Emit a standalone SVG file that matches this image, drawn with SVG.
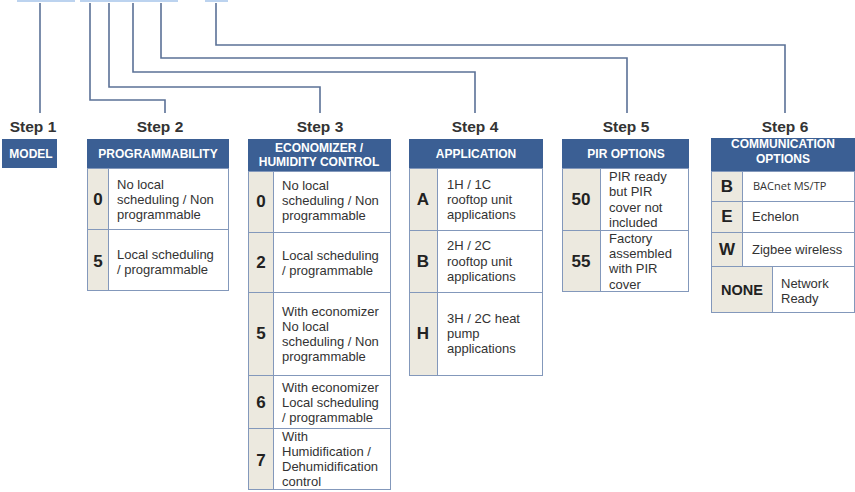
<svg xmlns="http://www.w3.org/2000/svg" width="855" height="492" viewBox="0 0 855 492">
<style>
.bg{fill:#ffffff}
.conn{fill:none;stroke:#5b7197;stroke-width:1.6}
.top{fill:#bcd3ef}
.step{font-family:"Liberation Sans",Arial,sans-serif;font-weight:bold;font-size:15.5px;fill:#333333;text-anchor:middle}
.hdr{fill:#3b5f94}
.ht{font-family:"Liberation Sans",Arial,sans-serif;font-weight:bold;font-size:12px;fill:#ffffff;text-anchor:middle}
.cell{fill:#ffffff;stroke:#8398bb;stroke-width:1}
.code{fill:#ece9df;stroke:#8398bb;stroke-width:1}
.ct{font-family:"Liberation Sans",Arial,sans-serif;font-weight:bold;font-size:17px;fill:#222222;text-anchor:middle}
.t{font-family:"Liberation Sans",Arial,sans-serif;font-size:13px;fill:#333333}
.t2{font-family:"Open Sans","Liberation Sans",sans-serif;font-size:11px;fill:#333333}
</style>
<rect class="bg" x="0" y="0" width="855" height="492"/>
<g id="topbars">
<rect class="top" x="17" y="0" width="58" height="2"/>
<rect class="top" x="80" y="0" width="98" height="2"/>
<rect class="top" x="205" y="0" width="23" height="2"/>
</g>
<g id="connectors">
<path class="conn" d="M40 3 V113"/>
<path class="conn" d="M90 3 V100 H165 V113"/>
<path class="conn" d="M109 3 V87 H320 V113"/>
<path class="conn" d="M133 3 V72 H475 V113"/>
<path class="conn" d="M161 3 V58 H627 V113"/>
<path class="conn" d="M216 3 V45 H785 V113"/>
</g>
<g id="step1">
<text class="step" x="33" y="132">Step 1</text>
<rect class="hdr" x="2" y="139" width="55" height="29"/>
<text class="ht" x="31" y="157.5">MODEL</text>
</g>
<g id="step2">
<text class="step" x="160" y="132">Step 2</text>
<rect class="hdr" x="87" y="139" width="142" height="29"/>
<text class="ht" x="158" y="157.5">PROGRAMMABILITY</text>
<rect class="cell" x="87.5" y="168.5" width="141" height="61"/>
<rect class="code" x="87.5" y="168.5" width="21" height="61"/>
<text class="ct" x="98" y="205">0</text>
<text class="t" x="117" y="189">No local</text>
<text class="t" x="117" y="204">scheduling / Non</text>
<text class="t" x="117" y="219">programmable</text>
<rect class="cell" x="87.5" y="229.5" width="141" height="61"/>
<rect class="code" x="87.5" y="229.5" width="21" height="61"/>
<text class="ct" x="98" y="267">5</text>
<text class="t" x="117" y="259">Local scheduling</text>
<text class="t" x="117" y="274">/ programmable</text>
</g>
<g id="step3">
<text class="step" x="320" y="132">Step  3</text>
<rect class="hdr" x="248" y="139" width="143" height="32"/>
<text class="ht" x="319" y="152">ECONOMIZER /</text>
<text class="ht" x="319" y="166">HUMIDITY CONTROL</text>
<rect class="cell" x="248.5" y="171.5" width="142" height="61"/>
<rect class="code" x="248.5" y="171.5" width="25" height="61"/>
<text class="ct" x="261" y="207">0</text>
<text class="t" x="282" y="190">No local</text>
<text class="t" x="282" y="205">scheduling / Non</text>
<text class="t" x="282" y="220">programmable</text>
<rect class="cell" x="248.5" y="232.5" width="142" height="60"/>
<rect class="code" x="248.5" y="232.5" width="25" height="60"/>
<text class="ct" x="261" y="268">2</text>
<text class="t" x="282" y="260">Local scheduling</text>
<text class="t" x="282" y="275">/ programmable</text>
<rect class="cell" x="248.5" y="292.5" width="142" height="83"/>
<rect class="code" x="248.5" y="292.5" width="25" height="83"/>
<text class="ct" x="261" y="339">5</text>
<text class="t" x="282" y="316">With economizer</text>
<text class="t" x="282" y="331">No local</text>
<text class="t" x="282" y="346">scheduling / Non</text>
<text class="t" x="282" y="361">programmable</text>
<rect class="cell" x="248.5" y="375.5" width="142" height="53"/>
<rect class="code" x="248.5" y="375.5" width="25" height="53"/>
<text class="ct" x="261" y="408">6</text>
<text class="t" x="282" y="392">With economizer</text>
<text class="t" x="282" y="407">Local scheduling</text>
<text class="t" x="282" y="422">/ programmable</text>
<rect class="cell" x="248.5" y="428.5" width="142" height="61"/>
<rect class="code" x="248.5" y="428.5" width="25" height="61"/>
<text class="ct" x="261" y="466">7</text>
<text class="t" x="282" y="441">With</text>
<text class="t" x="282" y="456">Humidification /</text>
<text class="t" x="282" y="471">Dehumidification</text>
<text class="t" x="282" y="486">control</text>
</g>
<g id="step4">
<text class="step" x="475" y="132">Step  4</text>
<rect class="hdr" x="409" y="139" width="134" height="29"/>
<text class="ht" x="476" y="157.5">APPLICATION</text>
<rect class="cell" x="409.5" y="168.5" width="133" height="62"/>
<rect class="code" x="409.5" y="168.5" width="28" height="62"/>
<text class="ct" x="423" y="205">A</text>
<text class="t" x="447" y="189">1H / 1C</text>
<text class="t" x="447" y="204">rooftop unit</text>
<text class="t" x="447" y="219">applications</text>
<rect class="cell" x="409.5" y="230.5" width="133" height="62"/>
<rect class="code" x="409.5" y="230.5" width="28" height="62"/>
<text class="ct" x="423" y="267">B</text>
<text class="t" x="447" y="250">2H / 2C</text>
<text class="t" x="447" y="266">rooftop unit</text>
<text class="t" x="447" y="281">applications</text>
<rect class="cell" x="409.5" y="292.5" width="133" height="83"/>
<rect class="code" x="409.5" y="292.5" width="28" height="83"/>
<text class="ct" x="423" y="339">H</text>
<text class="t" x="447" y="323">3H / 2C heat</text>
<text class="t" x="447" y="338">pump</text>
<text class="t" x="447" y="353">applications</text>
</g>
<g id="step5">
<text class="step" x="626" y="132">Step 5</text>
<rect class="hdr" x="562" y="139" width="127" height="29"/>
<text class="ht" x="626" y="157.5">PIR OPTIONS</text>
<rect class="cell" x="562.5" y="168.5" width="126" height="62"/>
<rect class="code" x="562.5" y="168.5" width="38" height="62"/>
<text class="ct" x="581" y="205">50</text>
<text class="t" x="609" y="181">PIR ready</text>
<text class="t" x="609" y="196">but PIR</text>
<text class="t" x="609" y="212">cover not</text>
<text class="t" x="609" y="227">included</text>
<rect class="cell" x="562.5" y="230.5" width="126" height="61"/>
<rect class="code" x="562.5" y="230.5" width="38" height="61"/>
<text class="ct" x="581" y="267">55</text>
<text class="t" x="609" y="243">Factory</text>
<text class="t" x="609" y="258">assembled</text>
<text class="t" x="609" y="273">with PIR</text>
<text class="t" x="609" y="289">cover</text>
</g>
<g id="step6">
<text class="step" x="785" y="132">Step 6</text>
<rect class="hdr" x="711" y="138" width="144" height="33"/>
<text class="ht" x="783" y="148">COMMUNICATION</text>
<text class="ht" x="783" y="163">OPTIONS</text>
<rect class="cell" x="711.5" y="171.5" width="143" height="30"/>
<rect class="code" x="711.5" y="171.5" width="31" height="30"/>
<text class="ct" x="727" y="192">B</text>
<text class="t2" x="753" y="190">BACnet MS/TP</text>
<rect class="cell" x="711.5" y="201.5" width="143" height="31"/>
<rect class="code" x="711.5" y="201.5" width="31" height="31"/>
<text class="ct" x="727" y="222">E</text>
<text class="t" x="752" y="221">Echelon</text>
<rect class="cell" x="711.5" y="232.5" width="143" height="34"/>
<rect class="code" x="711.5" y="232.5" width="31" height="34"/>
<text class="ct" x="727" y="255">W</text>
<text class="t" x="752" y="254">Zigbee wireless</text>
<rect class="cell" x="711.5" y="266.5" width="143" height="46"/>
<rect class="code" x="711.5" y="266.5" width="61" height="46"/>
<text class="ct" x="742" y="295" style="font-size:14.5px">NONE</text>
<text class="t" x="781" y="288">Network</text>
<text class="t" x="781" y="303">Ready</text>
</g>
</svg>
